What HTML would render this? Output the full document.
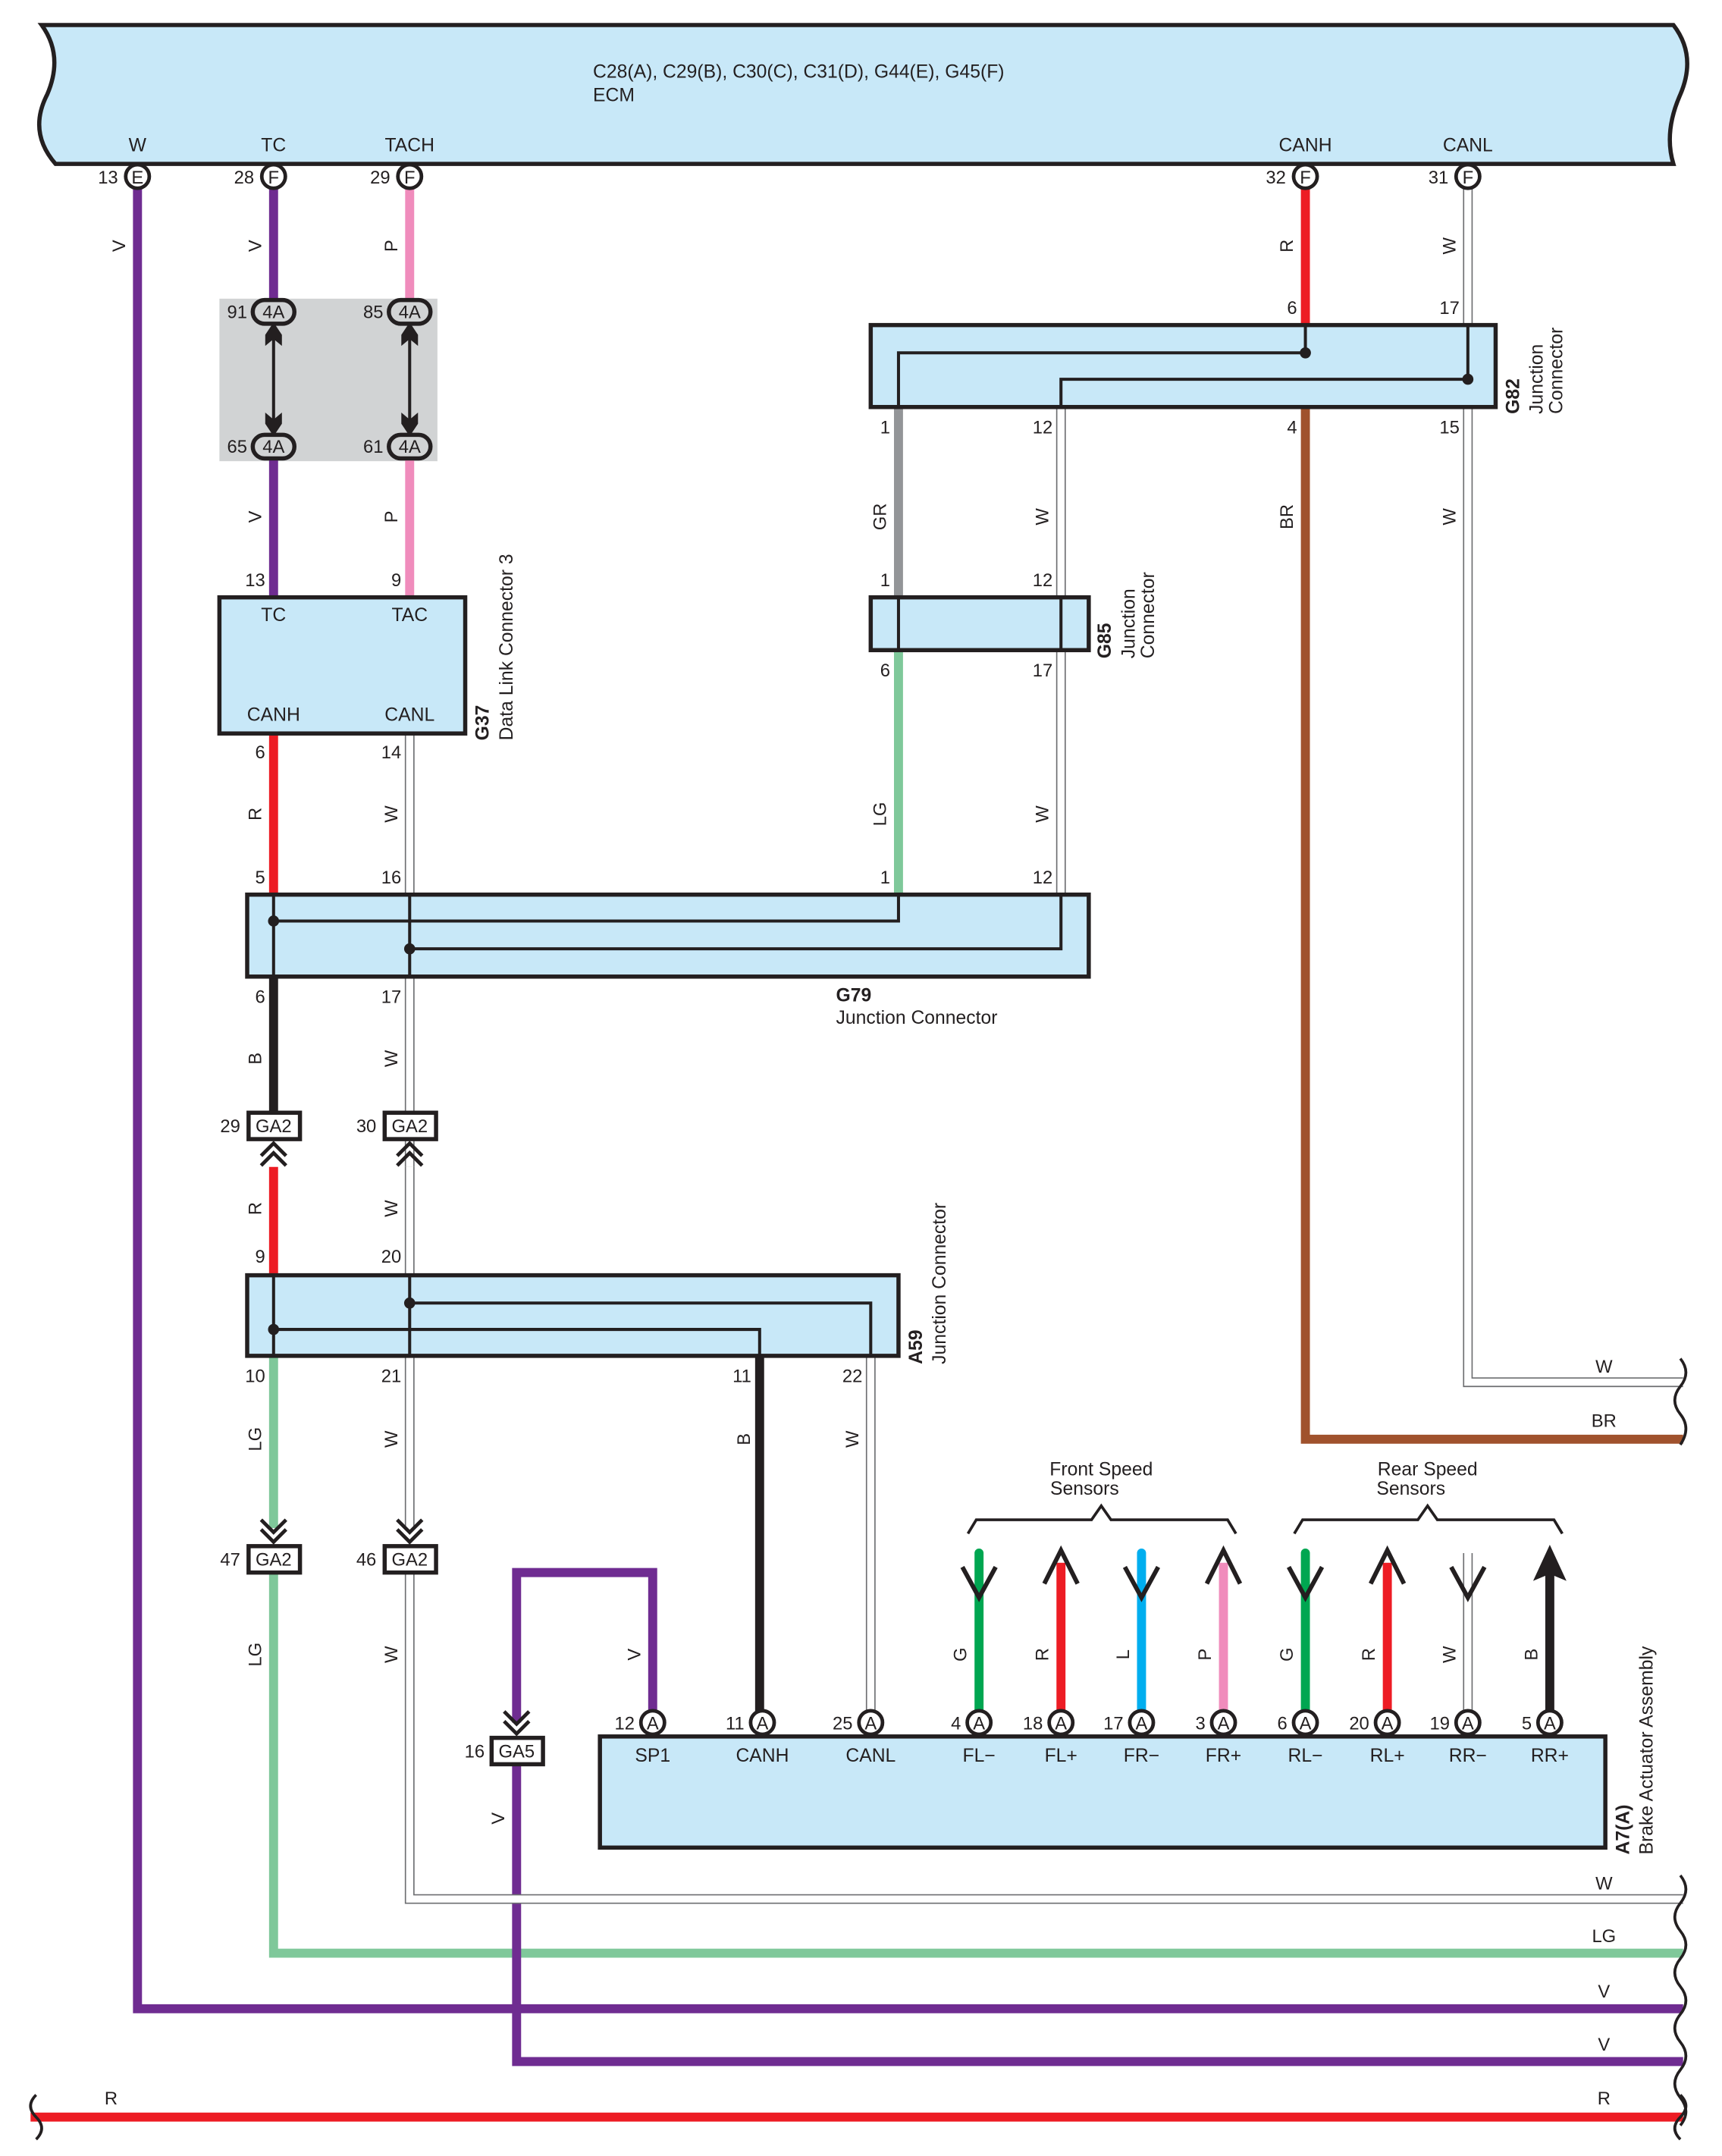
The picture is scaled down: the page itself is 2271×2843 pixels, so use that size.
<!DOCTYPE html>
<html><head><meta charset="utf-8"><style>
html,body{margin:0;padding:0;background:#fff}
svg{display:block}
text{font-family:"Liberation Sans",sans-serif;fill:#231f20}
</style></head><body>
<svg width="2271" height="2843" viewBox="0 0 1240 1552" preserveAspectRatio="none" xmlns="http://www.w3.org/2000/svg">
<defs>
<g id="pinE"><circle r="8.5" fill="#fff" stroke="#231f20" stroke-width="2.6"/></g>
</defs>
<!-- ECM -->
<path d="M40,18 L1205,18 Q1222,40 1210,68 Q1198,95 1205,118 L40,118 Q20,95 34,68 Q46,40 30,18 Z" fill="#c8e8f8" stroke="#231f20" stroke-width="3"/>
<text x="427" y="56" font-size="13.5">C28(A), C29(B), C30(C), C31(D), G44(E), G45(F)</text>
<text x="427" y="73" font-size="13.5">ECM</text>
<g font-size="13.5" text-anchor="middle">
<text x="99" y="109">W</text><text x="197" y="109">TC</text><text x="295" y="109">TACH</text><text x="940" y="109">CANH</text><text x="1057" y="109">CANL</text>
</g>

<!-- gray box -->
<rect x="158" y="215" width="157" height="117" fill="#d1d3d4"/>

<!-- thick wires -->
<g fill="none" stroke-linejoin="miter" stroke-width="6.5">
<path d="M99,136 V1446 H1212" stroke="#6f2c91"/>
<path d="M197,136 V215" stroke="#6f2c91"/>
<path d="M197,330 V430" stroke="#6f2c91"/>
<path d="M295,136 V215" stroke="#f08cbc"/>
<path d="M295,330 V430" stroke="#f08cbc"/>
<path d="M197,528 V644" stroke="#ed1c24"/>
<path d="M197,703 V800" stroke="#231f20"/>
<path d="M197,840 V918" stroke="#ed1c24"/>
<path d="M197,976 V1100" stroke="#7fc89a"/>
<path d="M197,1132 V1406 H1212" stroke="#7fc89a"/>
<path d="M547,976 V1232" stroke="#231f20"/>
<path d="M470,1232 V1132 H372 V1240" stroke="#6f2c91"/>
<path d="M372,1270 V1484 H1212" stroke="#6f2c91"/>
<path d="M940,136 V234" stroke="#ed1c24"/>
<path d="M940,293 V1036 H1212" stroke="#a0522d"/>
<path d="M647,293 V430" stroke="#939598"/>
<path d="M647,468 V644" stroke="#7fc89a"/>
<path d="M22,1524 H1212" stroke="#ed1c24"/>
<path d="M705,1232 V1118" stroke="#00a651" stroke-linecap="round"/>
<path d="M764,1232 V1125" stroke="#ed1c24"/>
<path d="M822,1232 V1118" stroke="#00aeef" stroke-linecap="round"/>
<path d="M881,1232 V1125" stroke="#f08cbc"/>
<path d="M940,1232 V1118" stroke="#00a651" stroke-linecap="round"/>
<path d="M999,1232 V1125" stroke="#ed1c24"/>
<path d="M1116,1232 V1125" stroke="#231f20"/>
</g>
<!-- W wires (outlined) -->
<g fill="none">
<g stroke="#6d6e71" stroke-width="7">
<path d="M295,528 V644"/><path d="M295,703 V840"/><path d="M295,840 V918"/><path d="M295,976 V1100"/>
<path d="M295,1132 V1367 H1212"/><path d="M627,976 V1232"/>
<path d="M1057,136 V234"/><path d="M1057,293 V995 H1212"/>
<path d="M764,293 V430"/><path d="M764,468 V644"/><path d="M1057,1118 V1232"/>
</g>
<g stroke="#fff" stroke-width="5.2">
<path d="M295,528 V644"/><path d="M295,703 V840"/><path d="M295,840 V918"/><path d="M295,976 V1100"/>
<path d="M295,1132 V1367 H1212"/><path d="M627,976 V1232"/>
<path d="M1057,136 V234"/><path d="M1057,293 V995 H1212"/>
<path d="M764,293 V430"/><path d="M764,468 V644"/><path d="M1057,1118 V1232"/>
</g>
</g>

<!-- wavy right ends -->
<g fill="none" stroke="#231f20" stroke-width="2">
<path d="M1210,978 q8,10 0,20 q-8,10 0,20 q8,10 0,22"/>
<path d="M1210,1350 q8,10 0,20 q-8,10 0,20 q8,10 0,20 q-8,10 0,20 q8,10 0,20 q-8,10 0,20 q8,10 0,20 q-8,10 0,20 q8,10 0,20"/>
<path d="M1210,1508 q8,8 0,16 q-8,8 0,16"/>
<path d="M26,1508 q-8,8 0,16 q8,8 0,16"/>
</g>

<!-- ECM pins -->
<g font-size="13" text-anchor="middle">
<use href="#pinE" x="99" y="127"/><text x="99" y="132">E</text>
<use href="#pinE" x="197" y="127"/><text x="197" y="132">F</text>
<use href="#pinE" x="295" y="127"/><text x="295" y="132">F</text>
<use href="#pinE" x="940" y="127"/><text x="940" y="132">F</text>
<use href="#pinE" x="1057" y="127"/><text x="1057" y="132">F</text>
</g>
<g font-size="13" text-anchor="end">
<text x="85" y="132">13</text><text x="183" y="132">28</text><text x="281" y="132">29</text><text x="926" y="132">32</text><text x="1043" y="132">31</text>
</g>

<!-- 4A connectors -->
<g fill="none" stroke="#231f20" stroke-width="2.2">
<path d="M197,236 V310"/><path d="M295,236 V310"/>
</g>
<g fill="#231f20">
<path d="M197,232 l-6,9 v8 l6,-5 l6,5 v-8z"/><path d="M295,232 l-6,9 v8 l6,-5 l6,5 v-8z"/>
<path d="M197,314 l-6,-9 v-8 l6,5 l6,-5 v8z"/><path d="M295,314 l-6,-9 v-8 l6,5 l6,-5 v8z"/>
</g>
<g stroke="#231f20" stroke-width="3" fill="#d1d3d4">
<rect x="182" y="216" width="30" height="17" rx="8.5"/><rect x="280" y="216" width="30" height="17" rx="8.5"/>
<rect x="182" y="313" width="30" height="17" rx="8.5"/><rect x="280" y="313" width="30" height="17" rx="8.5"/>
</g>
<g font-size="13" text-anchor="middle">
<text x="197" y="229">4A</text><text x="295" y="229">4A</text><text x="197" y="326">4A</text><text x="295" y="326">4A</text>
</g>
<g font-size="13" text-anchor="end">
<text x="178" y="229">91</text><text x="276" y="229">85</text><text x="178" y="326">65</text><text x="276" y="326">61</text>
</g>

<!-- G37 -->
<rect x="158" y="430" width="177" height="98" fill="#c8e8f8" stroke="#231f20" stroke-width="3"/>
<g font-size="13.5" text-anchor="middle">
<text x="197" y="447">TC</text><text x="295" y="447">TAC</text><text x="197" y="519">CANH</text><text x="295" y="519">CANL</text>
</g>
<g font-size="13" text-anchor="end">
<text x="191" y="422">13</text><text x="289" y="422">9</text><text x="191" y="546">6</text><text x="289" y="546">14</text>
</g>
<text transform="translate(352,533) rotate(-90)" font-size="13.5"><tspan font-weight="bold">G37</tspan></text>
<text transform="translate(369,533) rotate(-90)" font-size="13.5">Data Link Connector 3</text>

<!-- G82 -->
<rect x="627" y="234" width="450" height="59" fill="#c8e8f8" stroke="#231f20" stroke-width="3"/>
<g fill="none" stroke="#231f20" stroke-width="2.2">
<path d="M940,234 V254 H647 V293"/><path d="M1057,234 V273 H764 V293"/>
</g>
<circle cx="940" cy="254" r="4" fill="#231f20"/><circle cx="1057" cy="273" r="4" fill="#231f20"/>
<g font-size="13" text-anchor="end">
<text x="934" y="226">6</text><text x="1051" y="226">17</text>
<text x="641" y="312">1</text><text x="758" y="312">12</text><text x="934" y="312">4</text><text x="1051" y="312">15</text>
</g>
<text transform="translate(1094,298) rotate(-90)" font-size="13.5" font-weight="bold">G82</text>
<text transform="translate(1111,298) rotate(-90)" font-size="13.5">Junction</text>
<text transform="translate(1125,298) rotate(-90)" font-size="13.5">Connector</text>

<!-- G85 -->
<rect x="627" y="430" width="157" height="38" fill="#c8e8f8" stroke="#231f20" stroke-width="3"/>
<g stroke="#231f20" stroke-width="2.2"><path d="M647,430 V468"/><path d="M764,430 V468"/></g>
<g font-size="13" text-anchor="end">
<text x="641" y="422">1</text><text x="758" y="422">12</text><text x="641" y="487">6</text><text x="758" y="487">17</text>
</g>
<text transform="translate(800,474) rotate(-90)" font-size="13.5" font-weight="bold">G85</text>
<text transform="translate(817,474) rotate(-90)" font-size="13.5">Junction</text>
<text transform="translate(831,474) rotate(-90)" font-size="13.5">Connector</text>

<!-- G79 -->
<rect x="178" y="644" width="606" height="59" fill="#c8e8f8" stroke="#231f20" stroke-width="3"/>
<g fill="none" stroke="#231f20" stroke-width="2.2">
<path d="M197,644 V703"/><path d="M295,644 V703"/>
<path d="M197,663 H647 V644"/><path d="M295,683 H764 V644"/>
</g>
<circle cx="197" cy="663" r="4" fill="#231f20"/><circle cx="295" cy="683" r="4" fill="#231f20"/>
<g font-size="13" text-anchor="end">
<text x="191" y="636">5</text><text x="289" y="636">16</text><text x="641" y="636">1</text><text x="758" y="636">12</text>
<text x="191" y="722">6</text><text x="289" y="722">17</text>
</g>
<text x="602" y="721" font-size="13.5" font-weight="bold">G79</text>
<text x="602" y="737" font-size="13.5">Junction Connector</text>

<!-- GA2 upper -->
<g stroke="#231f20" stroke-width="3" fill="#fff">
<rect x="179" y="801" width="37" height="19"/><rect x="277" y="801" width="37" height="19"/>
</g>
<g fill="none" stroke="#231f20" stroke-width="2.6">
<path d="M188,832 l9,-9 l9,9"/><path d="M188,839 l9,-9 l9,9"/>
<path d="M286,832 l9,-9 l9,9"/><path d="M286,839 l9,-9 l9,9"/>
</g>
<g font-size="13" text-anchor="middle"><text x="197" y="815">GA2</text><text x="295" y="815">GA2</text></g>
<g font-size="13" text-anchor="end"><text x="173" y="815">29</text><text x="271" y="815">30</text></g>

<!-- A59 -->
<rect x="178" y="918" width="469" height="58" fill="#c8e8f8" stroke="#231f20" stroke-width="3"/>
<g fill="none" stroke="#231f20" stroke-width="2.2">
<path d="M197,918 V976"/><path d="M295,918 V976"/>
<path d="M295,938 H627 V976"/><path d="M197,957 H547 V976"/>
</g>
<circle cx="295" cy="938" r="4" fill="#231f20"/><circle cx="197" cy="957" r="4" fill="#231f20"/>
<g font-size="13" text-anchor="end">
<text x="191" y="909">9</text><text x="289" y="909">20</text>
<text x="191" y="995">10</text><text x="289" y="995">21</text><text x="541" y="995">11</text><text x="621" y="995">22</text>
</g>
<text transform="translate(664,982) rotate(-90)" font-size="13.5" font-weight="bold">A59</text>
<text transform="translate(681,982) rotate(-90)" font-size="13.5">Junction Connector</text>

<!-- GA2 lower -->
<g fill="none" stroke="#231f20" stroke-width="2.6">
<path d="M188,1094 l9,9 l9,-9"/><path d="M188,1101 l9,9 l9,-9"/>
<path d="M286,1094 l9,9 l9,-9"/><path d="M286,1101 l9,9 l9,-9"/>
<path d="M363,1232 l9,9 l9,-9"/><path d="M363,1239 l9,9 l9,-9"/>
</g>
<g stroke="#231f20" stroke-width="3" fill="#fff">
<rect x="179" y="1113" width="37" height="19"/><rect x="277" y="1113" width="37" height="19"/>
<rect x="354" y="1251" width="37" height="19"/>
</g>
<g font-size="13" text-anchor="middle"><text x="197" y="1127">GA2</text><text x="295" y="1127">GA2</text><text x="372" y="1265">GA5</text></g>
<g font-size="13" text-anchor="end"><text x="173" y="1127">47</text><text x="271" y="1127">46</text><text x="349" y="1265">16</text></g>

<!-- A7 -->
<rect x="432" y="1250" width="724" height="80" fill="#c8e8f8" stroke="#231f20" stroke-width="3"/>
<g font-size="13" text-anchor="middle">
<use href="#pinE" x="470" y="1240"/><text x="470" y="1245">A</text>
<use href="#pinE" x="549" y="1240"/><text x="549" y="1245">A</text>
<use href="#pinE" x="627" y="1240"/><text x="627" y="1245">A</text>
<use href="#pinE" x="705" y="1240"/><text x="705" y="1245">A</text>
<use href="#pinE" x="764" y="1240"/><text x="764" y="1245">A</text>
<use href="#pinE" x="822" y="1240"/><text x="822" y="1245">A</text>
<use href="#pinE" x="881" y="1240"/><text x="881" y="1245">A</text>
<use href="#pinE" x="940" y="1240"/><text x="940" y="1245">A</text>
<use href="#pinE" x="999" y="1240"/><text x="999" y="1245">A</text>
<use href="#pinE" x="1057" y="1240"/><text x="1057" y="1245">A</text>
<use href="#pinE" x="1116" y="1240"/><text x="1116" y="1245">A</text>
</g>
<g font-size="13" text-anchor="end">
<text x="457" y="1245">12</text><text x="536" y="1245">11</text><text x="614" y="1245">25</text><text x="692" y="1245">4</text>
<text x="751" y="1245">18</text><text x="809" y="1245">17</text><text x="868" y="1245">3</text><text x="927" y="1245">6</text>
<text x="986" y="1245">20</text><text x="1044" y="1245">19</text><text x="1103" y="1245">5</text>
</g>
<g font-size="13.5" text-anchor="middle">
<text x="470" y="1268">SP1</text><text x="549" y="1268">CANH</text><text x="627" y="1268">CANL</text><text x="705" y="1268">FL−</text>
<text x="764" y="1268">FL+</text><text x="822" y="1268">FR−</text><text x="881" y="1268">FR+</text><text x="940" y="1268">RL−</text>
<text x="999" y="1268">RL+</text><text x="1057" y="1268">RR−</text><text x="1116" y="1268">RR+</text>
</g>
<text transform="translate(1173,1335) rotate(-90)" font-size="13.5" font-weight="bold">A7(A)</text>
<text transform="translate(1190,1335) rotate(-90)" font-size="13.5">Brake Actuator Assembly</text>

<!-- sensor arrows -->
<g fill="none" stroke="#231f20" stroke-width="3.2">
<path d="M693,1128 l12,22 l12,-22"/><path d="M810,1128 l12,22 l12,-22"/><path d="M928,1128 l12,22 l12,-22"/><path d="M1045,1128 l12,22 l12,-22"/>
<path d="M752,1140 l12,-24 l12,24"/><path d="M869,1140 l12,-24 l12,24"/><path d="M987,1140 l12,-24 l12,24"/>
</g>
<path d="M1116,1112 l-12,26 l12,-5 l12,5z" fill="#231f20"/>
<!-- braces -->
<g fill="none" stroke="#231f20" stroke-width="2">
<path d="M697,1104 l6,-10 H786 l7,-10 l7,10 H884 l6,10"/>
<path d="M932,1104 l6,-10 H1021 l7,-10 l7,10 H1119 l6,10"/>
</g>
<g font-size="13.5" text-anchor="middle">
<text x="793" y="1062">Front Speed</text><text x="781" y="1076">Sensors</text>
<text x="1028" y="1062">Rear Speed</text><text x="1016" y="1076">Sensors</text>
</g>

<!-- wire color labels (rotated) -->
<g font-size="13" text-anchor="middle">
<text transform="translate(90,177) rotate(-90)">V</text>
<text transform="translate(188,177) rotate(-90)">V</text>
<text transform="translate(286,177) rotate(-90)">P</text>
<text transform="translate(188,372) rotate(-90)">V</text>
<text transform="translate(286,372) rotate(-90)">P</text>
<text transform="translate(188,586) rotate(-90)">R</text>
<text transform="translate(286,586) rotate(-90)">W</text>
<text transform="translate(188,762) rotate(-90)">B</text>
<text transform="translate(286,762) rotate(-90)">W</text>
<text transform="translate(188,870) rotate(-90)">R</text>
<text transform="translate(286,870) rotate(-90)">W</text>
<text transform="translate(188,1036) rotate(-90)">LG</text>
<text transform="translate(286,1036) rotate(-90)">W</text>
<text transform="translate(540,1036) rotate(-90)">B</text>
<text transform="translate(618,1036) rotate(-90)">W</text>
<text transform="translate(188,1191) rotate(-90)">LG</text>
<text transform="translate(286,1191) rotate(-90)">W</text>
<text transform="translate(461,1191) rotate(-90)">V</text>
<text transform="translate(363,1309) rotate(-90)">V</text>
<text transform="translate(696,1191) rotate(-90)">G</text>
<text transform="translate(755,1191) rotate(-90)">R</text>
<text transform="translate(813,1191) rotate(-90)">L</text>
<text transform="translate(872,1191) rotate(-90)">P</text>
<text transform="translate(931,1191) rotate(-90)">G</text>
<text transform="translate(990,1191) rotate(-90)">R</text>
<text transform="translate(1048,1191) rotate(-90)">W</text>
<text transform="translate(1107,1191) rotate(-90)">B</text>
<text transform="translate(931,177) rotate(-90)">R</text>
<text transform="translate(1048,177) rotate(-90)">W</text>
<text transform="translate(638,372) rotate(-90)">GR</text>
<text transform="translate(755,372) rotate(-90)">W</text>
<text transform="translate(931,372) rotate(-90)">BR</text>
<text transform="translate(1048,372) rotate(-90)">W</text>
<text transform="translate(638,586) rotate(-90)">LG</text>
<text transform="translate(755,586) rotate(-90)">W</text>
</g>
<g font-size="13" text-anchor="middle">
<text x="1155" y="988">W</text><text x="1155" y="1027">BR</text>
<text x="1155" y="1360">W</text><text x="1155" y="1398">LG</text>
<text x="1155" y="1438">V</text><text x="1155" y="1476">V</text>
<text x="1155" y="1515">R</text><text x="80" y="1515">R</text>
</g>
</svg>
</body></html>
